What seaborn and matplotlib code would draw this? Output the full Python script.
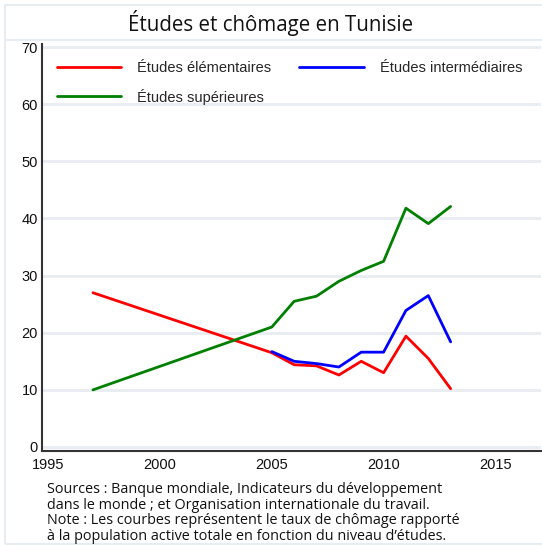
import numpy as np
import pandas as pd
import seaborn as sns
import matplotlib.pyplot as plt
from matplotlib.patches import Rectangle
from matplotlib.lines import Line2D

# Données (taux de chômage, %)
annees_elem = [1997, 2005, 2006, 2007, 2008, 2009, 2010, 2011, 2012, 2013]
elementaires = [27.0, 16.5, 14.4, 14.2, 12.6, 15.0, 13.0, 19.4, 15.5, 10.2]

annees_inter = [2005, 2006, 2007, 2008, 2009, 2010, 2011, 2012, 2013]
intermediaires = [16.7, 15.0, 14.6, 14.0, 16.6, 16.6, 23.9, 26.5, 18.4]

annees_sup = [1997, 2005, 2006, 2007, 2008, 2009, 2010, 2011, 2012, 2013]
superieures = [10.0, 21.0, 25.5, 26.4, 29.0, 30.9, 32.5, 41.8, 39.1, 42.1]

series = ['Études élémentaires', 'Études intermédiaires', 'Études supérieures']
couleurs = ['#ff0000', '#0000ff', '#008000']
x_ticks = [1995, 2000, 2005, 2010, 2015]
y_ticks = [0, 10, 20, 30, 40, 50, 60, 70]

titre = 'Études et chômage en Tunisie'
note = ("Sources : Banque mondiale, Indicateurs du développement\n"
        "dans le monde ; et Organisation internationale du travail.\n"
        "Note : Les courbes représentent le taux de chômage rapporté\n"
        "à la population active totale en fonction du niveau d’études.")

df = pd.concat([
    pd.DataFrame({'annee': annees_elem, 'taux': elementaires, 'niveau': series[0]}),
    pd.DataFrame({'annee': annees_inter, 'taux': intermediaires, 'niveau': series[1]}),
    pd.DataFrame({'annee': annees_sup, 'taux': superieures, 'niveau': series[2]}),
])

sns.set_style('white')
plt.rcParams['font.family'] = ['Liberation Sans', 'DejaVu Sans']

fig = plt.figure(figsize=(5.42, 5.46), dpi=100)
ax = fig.add_axes([0.0775, 0.174, 0.921, 0.745])

sns.lineplot(data=df, x='annee', y='taux', hue='niveau', hue_order=series,
             palette=couleurs, linewidth=2, ax=ax, legend=False)

ax.set_xlim(1994.72, 2017.05)
ax.set_ylim(-0.7, 70.5)
ax.set_xticks(x_ticks)
ax.set_yticks(y_ticks)
ax.set_xlabel('')
ax.set_ylabel('')
ax.grid(axis='y', color='#e8edf2', linewidth=2)
ax.set_axisbelow(True)
for s in ['top', 'right']:
    ax.spines[s].set_visible(False)
for s in ['left', 'bottom']:
    ax.spines[s].set_color('#333333')
    ax.spines[s].set_linewidth(1.5)
ax.tick_params(direction='in', length=6, width=1.2, color='#333333',
               labelsize=10.5, labelcolor='#111111')
ax.tick_params(axis='x', pad=5)
ax.tick_params(axis='y', pad=3)

# légende sur deux colonnes
handles = [Line2D([], [], color=couleurs[0], lw=2),
           Line2D([], [], color=couleurs[2], lw=2),
           Line2D([], [], color=couleurs[1], lw=2)]
labels = [series[0], series[2], series[1]]
ax.legend(handles, labels, ncol=2, frameon=False, loc='upper left',
          bbox_to_anchor=(0.003, 0.99), handlelength=4.4, handletextpad=1.1,
          columnspacing=1.95, labelspacing=0.9, fontsize=10.5)

fig.text(0.5, 0.958, titre, ha='center', va='center', fontsize=14.8,
         family=['Open Sans', 'DejaVu Sans'], color='#111111')
fig.text(0.087, 0.117, note, ha='left', va='top', fontsize=10.4,
         family=['Open Sans', 'DejaVu Sans'], linespacing=1.05, color='#111111')

# cadre clair autour de la figure et sous le titre (ouvert à droite)
fig.patches.append(Rectangle((0.009, 0.004), 1.0, 0.987, transform=fig.transFigure,
                             fill=False, edgecolor='#e8edf2', linewidth=1.5))
fig.lines.append(Line2D([0.009, 1.0], [0.927, 0.927], transform=fig.transFigure,
                        color='#e8edf2', linewidth=1.5))

fig.savefig('out.png', dpi=100)
